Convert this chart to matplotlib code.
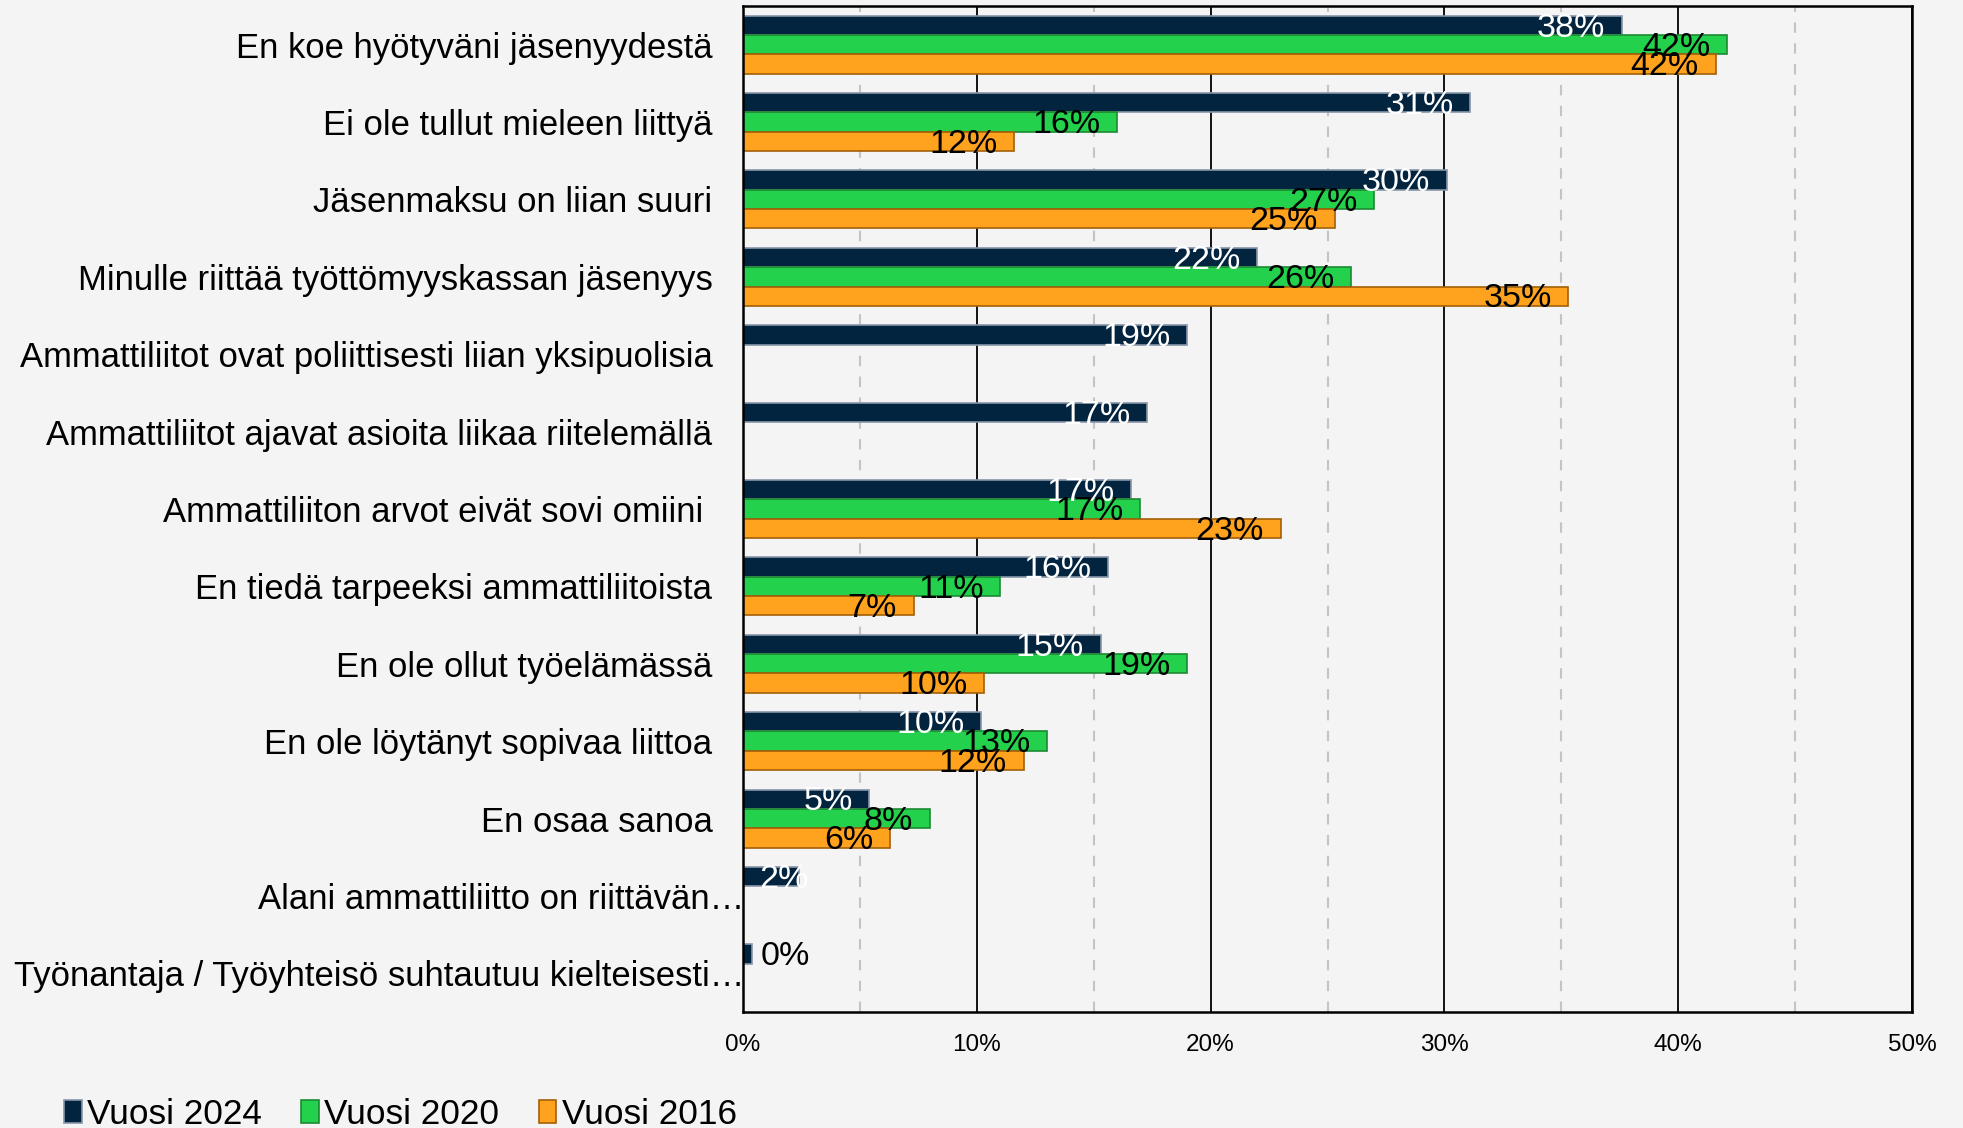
import matplotlib
matplotlib.use('Agg')
import matplotlib.pyplot as plt
import matplotlib.transforms as mtransforms
from matplotlib import font_manager
from matplotlib.patches import Patch
import numpy as np

categories = [
    'En koe hyötyväni jäsenyydestä',
    'Ei ole tullut mieleen liittyä',
    'Jäsenmaksu on liian suuri',
    'Minulle riittää työttömyyskassan jäsenyys',
    'Ammattiliitot ovat poliittisesti liian yksipuolisia',
    'Ammattiliitot ajavat asioita liikaa riitelemällä',
    'Ammattiliiton arvot eivät sovi omiini ',
    'En tiedä tarpeeksi ammattiliitoista',
    'En ole ollut työelämässä',
    'En ole löytänyt sopivaa liittoa',
    'En osaa sanoa',
    'Alani ammattiliitto on riittävän…',
    'Työnantaja / Työyhteisö suhtautuu kielteisesti…',
]
v2024 = [0.376, 0.311, 0.301, 0.220, 0.190, 0.173, 0.166, 0.156, 0.153, 0.102, 0.054, 0.024, 0.004]
v2020 = [0.421, 0.160, 0.270, 0.260, np.nan, np.nan, 0.170, 0.110, 0.190, 0.130, 0.080, np.nan, np.nan]
v2016 = [0.416, 0.116, 0.253, 0.353, np.nan, np.nan, 0.230, 0.073, 0.103, 0.120, 0.063, np.nan, np.nan]
series_names = ['Vuosi 2024', 'Vuosi 2020', 'Vuosi 2016']
xticks = [0, 0.1, 0.2, 0.3, 0.4, 0.5]

# font: condensed look of the original if available
try:
    font_manager.findfont('Liberation Sans Narrow', fallback_to_default=False)
    fam = ['Liberation Sans Narrow', 'Liberation Sans', 'DejaVu Sans']
    k = 1.22
except Exception:
    fam = ['Liberation Sans', 'DejaVu Sans']
    k = 1.0
plt.rcParams['font.family'] = fam
cat_fs, lab_fs, leg_fs, tick_fs = 24.9 * k, 24.5 * k, 25.4 * k, 17.5 * k

bg = '#f4f4f4'
cols = ['#03243f', '#24d14c', '#ffa31f']
edges = ['#8796a8', '#1c8a33', '#a35f08']
txtcols = ['white', 'black', 'black']

fig = plt.figure(figsize=(19.63, 11.28), dpi=100, facecolor=bg)
ax = fig.add_axes([743/1963, 1 - 1012/1128, (1912 - 743)/1963, (1012 - 6)/1128])
ax.set_facecolor(bg)

y = np.arange(len(categories))
h = 0.25
offs = [-h, 0, h]
for vals, off, c, ec, tc in zip([v2024, v2020, v2016], offs, cols, edges, txtcols):
    vals = np.array(vals, dtype=float)
    ax.barh(y + off, vals, height=h, color=c, edgecolor=ec, linewidth=1.2, zorder=3)
    for yi, v in zip(y, vals):
        if np.isnan(v):
            continue
        lab = f'{round(v * 100):.0f}%'
        if v < 0.01:
            ax.annotate(lab, (v, yi + off), xytext=(6, -2), textcoords='offset points',
                        ha='left', va='center', fontsize=lab_fs, color='black', zorder=4)
        elif v < 0.04:
            ax.annotate(lab, (0, yi + off), xytext=(12, -2), textcoords='offset points',
                        ha='left', va='center', fontsize=lab_fs, color=tc, zorder=4)
        else:
            ax.annotate(lab, (v, yi + off), xytext=(-12, -2), textcoords='offset points',
                        ha='right', va='center', fontsize=lab_fs, color=tc, zorder=4)

ax.set_xlim(0, 0.5)
ax.set_ylim(len(categories) - 0.5, -0.5)
ax.set_xticks(xticks)
ax.set_xticklabels([f'{int(round(t * 100))}%' for t in xticks], fontsize=tick_fs)
ax.set_xticks(np.arange(0.05, 0.5, 0.1), minor=True)
ax.grid(axis='x', which='major', color='black', linewidth=1.3, zorder=1)
ax.grid(axis='x', which='minor', color='#c4c4c4', linewidth=1.5, linestyle=(0, (5, 5)), zorder=1)
ax.set_yticks(y)
ax.set_yticklabels(categories, fontsize=cat_fs)
ax.tick_params(axis='both', which='both', length=0)
ax.tick_params(axis='x', pad=16)
ax.tick_params(axis='y', pad=22)
for s in ax.spines.values():
    s.set_color('black')
    s.set_linewidth(1.8)
    s.set_zorder(5)

# truncated labels run into the axis line like the original
for tl in ax.get_yticklabels():
    if tl.get_text().endswith('…'):
        tl.set_transform(tl.get_transform() + mtransforms.ScaledTranslation(0.32, 0, fig.dpi_scale_trans))

handles = [Patch(facecolor=c, edgecolor=ec, linewidth=1.2) for c, ec in zip(cols, edges)]
fig.legend(handles, series_names, loc='center left', bbox_to_anchor=(64/1963, 0.012),
           ncol=3, frameon=False, fontsize=leg_fs, borderpad=0, borderaxespad=0,
           handlelength=0.5, handleheight=0.6, handletextpad=0.15, columnspacing=1.12)

fig.savefig('out.png', dpi=100, facecolor=bg)
